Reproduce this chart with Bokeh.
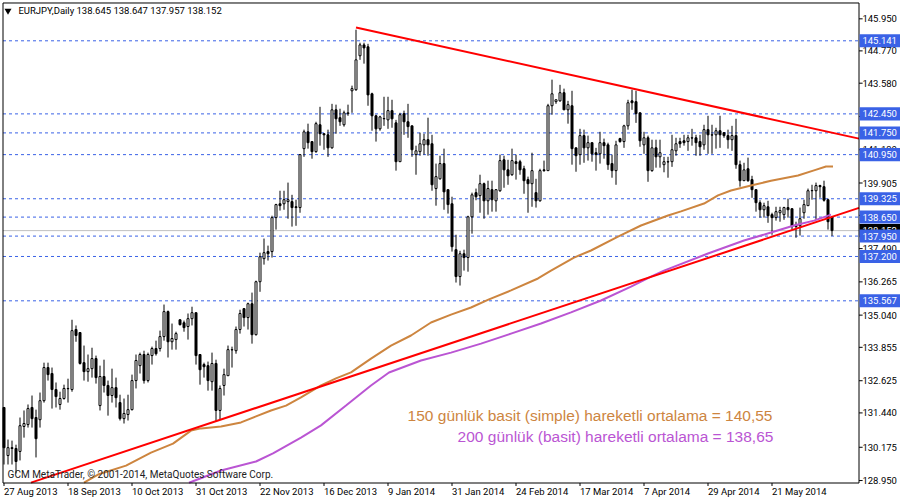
from bokeh.plotting import figure
from bokeh.models import ColumnDataSource, Range1d
from bokeh.core.properties import value
from bokeh.embed import file_html
from bokeh.resources import INLINE

CAL = 0.04  # reading calibration against the price scale; last bar is given exactly in the header
open_read = [131.68,129.91,130.20,130.17,130.06,130.98,131.05,131.68,131.31,131.23,131.93,133.15,132.93,132.34,131.79,132.01,132.38,132.34,134.55,134.44,
133.33,133.00,133.11,133.48,131.75,132.82,132.49,132.12,132.41,131.86,131.27,131.42,131.60,132.67,133.22,133.63,132.67,133.59,133.85,133.85,
134.29,135.21,134.10,134.18,134.91,134.80,134.66,134.95,135.17,133.63,133.26,133.22,132.63,133.30,131.57,132.49,132.85,133.80,133.77,134.55,
135.32,134.99,135.50,134.36,136.31,137.16,137.42,137.42,138.67,139.18,139.18,139.26,139.26,139.07,139.04,141.21,141.83,141.47,141.10,142.09,
141.76,141.72,141.24,142.64,142.35,142.09,142.50,143.34,143.38,144.63,145.03,144.96,143.23,142.42,141.94,142.31,142.27,142.61,142.16,140.73,
142.50,142.20,142.05,140.99,141.10,141.35,141.54,141.39,139.74,140.10,140.66,139.70,139.18,137.49,136.50,137.34,137.20,138.70,139.59,139.48,
139.92,139.29,139.70,139.29,139.66,140.80,140.43,140.25,140.73,140.73,140.47,140.07,139.92,139.59,139.29,140.43,140.40,142.79,142.94,142.97,
143.27,142.64,142.79,141.24,140.99,141.69,141.24,141.43,141.06,141.02,141.43,141.35,140.66,140.40,141.58,141.47,142.05,142.97,142.94,142.53,
141.35,141.61,140.40,141.24,140.91,140.62,140.72,140.73,141.13,141.47,141.50,141.47,141.60,141.61,141.47,141.35,141.91,141.71,141.72,141.87,
141.80,141.69,141.54,141.69,140.62,140.03,140.47,140.07,139.70,139.22,138.96,139.07,138.78,138.67,138.85,138.78,139.04,139.00,138.41,138.37,
138.85,139.11,139.66,139.66,139.85,139.81,139.33,138.645]
high_read = [131.68,130.50,130.46,130.31,131.31,131.57,131.79,132.12,131.60,132.23,133.33,133.33,133.15,132.60,132.26,132.52,132.74,134.91,134.70,134.44,
133.96,133.63,133.88,133.59,133.22,133.44,132.67,133.11,132.78,132.15,132.01,132.15,132.89,133.63,133.70,133.77,133.70,133.92,134.14,134.51,
135.47,135.25,134.77,134.47,134.91,134.88,135.14,135.39,135.17,133.63,133.33,133.37,133.70,133.44,132.49,133.11,133.96,133.92,134.66,135.28,
135.32,135.54,135.91,136.35,137.38,137.90,137.64,138.74,139.18,139.66,139.66,139.96,139.51,139.33,140.99,141.91,142.13,141.47,142.20,142.75,
141.76,141.91,142.86,142.83,142.68,142.61,142.83,143.53,145.59,145.11,145.11,145.07,143.27,142.46,142.42,143.12,143.12,143.01,142.27,142.53,
142.61,142.86,142.05,141.32,141.80,141.76,142.35,141.72,140.66,140.95,141.21,139.70,139.44,138.04,137.45,137.49,138.74,139.59,139.74,140.25,
139.96,140.03,140.03,139.70,140.99,140.95,140.80,141.21,140.99,140.80,140.58,140.18,141.06,140.10,140.47,140.77,142.86,143.75,143.01,143.56,
143.42,142.97,143.34,141.24,141.94,141.91,141.69,141.43,141.24,141.83,141.58,141.43,140.99,141.50,141.61,142.09,143.01,143.38,143.34,142.53,
141.83,141.69,141.54,141.54,141.54,140.91,140.91,141.72,141.61,141.61,141.72,141.72,141.94,141.72,141.72,142.09,142.42,142.09,141.98,142.42,
141.80,141.91,142.05,142.31,140.77,140.69,140.88,140.21,139.70,139.31,139.22,139.29,138.85,139.07,139.07,139.07,139.37,139.00,138.52,139.04,
139.33,139.74,139.88,139.96,139.88,140.03,139.37,138.647]
low_read = [129.58,129.58,129.58,129.25,129.73,130.57,130.94,130.94,129.84,130.94,131.86,132.67,131.64,131.68,131.60,131.97,131.86,132.26,134.10,133.26,
132.67,132.63,132.78,132.56,131.57,132.23,131.38,131.86,131.68,131.20,131.09,131.20,131.57,132.38,132.93,132.56,132.60,133.26,133.59,133.74,
134.14,133.52,133.81,133.81,134.70,134.47,134.18,134.70,133.26,132.52,132.78,132.30,132.30,131.16,131.23,132.12,132.85,133.15,133.66,134.40,
134.66,134.55,134.03,134.33,135.94,136.94,137.09,137.20,138.23,138.93,138.96,138.63,138.34,138.37,138.85,140.91,141.21,140.84,141.06,141.32,
141.17,140.91,141.21,141.76,142.05,142.02,142.42,142.53,143.34,144.48,144.34,142.79,141.87,141.47,141.87,142.05,141.94,141.98,140.40,140.73,
141.72,141.61,140.91,140.25,140.95,140.99,140.95,139.66,139.11,140.07,138.96,138.82,137.42,136.28,136.17,136.72,136.68,138.08,139.31,138.85,
138.63,138.78,138.89,138.89,139.62,139.77,139.88,140.21,140.07,140.25,139.55,138.85,139.07,139.04,139.26,140.36,140.40,142.46,142.86,142.94,
142.64,142.13,140.62,140.36,140.62,140.69,140.77,140.73,140.40,140.66,140.84,140.43,140.14,139.88,141.43,141.24,141.91,142.64,142.16,141.28,
141.02,139.99,140.36,140.51,140.51,140.34,140.14,140.54,140.95,141.24,141.32,141.13,141.32,140.95,140.95,141.17,141.02,141.02,141.21,141.24,
141.61,141.21,141.13,140.47,139.81,140.03,139.99,139.40,138.89,138.67,138.67,138.48,138.04,138.56,138.52,138.59,138.67,138.23,137.93,138.01,
138.63,139.11,139.33,138.59,139.40,139.26,138.23,137.957]
close_read = [130.20,130.20,130.17,129.69,131.01,131.09,131.64,131.27,130.53,131.93,133.15,132.89,132.34,132.08,132.01,132.38,132.37,134.51,134.33,133.30,
133.00,133.11,133.48,132.78,132.82,132.49,132.12,132.41,132.04,131.27,131.46,131.60,132.67,133.41,133.63,132.67,133.63,133.85,133.66,134.29,
135.21,134.10,134.22,134.40,134.73,134.62,134.95,135.17,133.59,133.07,133.18,132.67,133.30,131.57,132.38,132.89,133.81,133.81,134.55,135.14,
134.99,135.50,134.36,136.31,137.23,137.38,137.34,138.67,139.15,139.11,139.33,139.33,139.04,139.04,140.99,141.83,141.43,141.10,142.13,141.76,
141.72,141.24,142.64,142.31,142.20,142.53,142.53,143.42,144.48,145.03,144.92,143.19,142.42,141.94,142.38,142.32,142.61,142.31,140.73,142.46,
142.20,142.02,141.17,141.13,141.39,141.54,141.35,139.88,140.18,140.66,139.62,139.15,137.60,136.50,137.34,137.20,138.70,139.51,139.44,139.92,
139.29,139.74,139.33,139.70,140.77,140.43,140.21,140.77,140.66,140.43,140.03,139.92,140.40,139.29,140.40,140.40,142.79,143.23,143.01,143.27,
142.64,142.83,141.21,140.95,141.69,141.24,141.43,141.02,140.99,141.43,141.32,140.62,140.40,141.35,141.47,142.05,142.90,142.90,142.50,141.50,
141.61,140.40,141.24,140.91,141.06,140.73,140.73,141.17,141.39,141.39,141.43,141.61,141.61,141.43,141.28,141.91,141.72,141.72,141.87,141.72,
141.69,141.54,141.69,140.62,140.03,140.43,140.03,139.70,139.22,138.96,139.11,138.74,138.67,138.89,138.93,139.04,138.96,138.34,138.34,138.63,
139.15,139.66,139.67,139.85,139.81,139.31,138.52,138.152]

date_idx = [0,16,32,48,64,80,96,112,128,144,160,176,192]
date_labels = ["27 Aug 2013","18 Sep 2013","10 Oct 2013","31 Oct 2013","22 Nov 2013","16 Dec 2013","9 Jan 2014",
               "31 Jan 2014","24 Feb 2014","17 Mar 2014","7 Apr 2014","29 Apr 2014","21 May 2014"]
price_ticks = [145.950,144.770,143.580,142.355,141.130,139.905,138.715,137.490,136.265,135.040,133.855,132.625,131.440,130.175,128.950]
levels = [145.141,142.450,141.750,140.950,139.325,138.650,137.950,137.200,135.567]
bid = 138.152

ma150_idx = [20,23.5,30.5,36.75,42.25,46.75,49.25,54.25,59.25,63,66.75,70.5,74.25,79.25,83,86.75,91.75,96.75,101.75,106.75,111.75,116.75,121.25,126.75,133.5,136.75,142.5,146.75,153.5,159.25,166,169.25,175,178.5,181.75,186.75,191.75,198.5,202.5,205.5,207.25]
ma150_val = [128.87,129.17,129.50,129.98,130.31,130.79,130.87,130.94,131.09,131.31,131.53,131.71,132.01,132.45,132.71,132.93,133.44,133.92,134.29,134.77,135.06,135.32,135.62,135.95,136.39,136.68,137.16,137.42,137.93,138.34,138.71,138.86,139.15,139.45,139.63,139.81,139.99,140.18,140.37,140.51,140.51]
ma200_idx = [46.25,54.25,63,67.25,74.25,79.25,85.5,91.75,96.25,104.25,111.75,119.25,126.75,134.25,141.75,149.25,156.75,161.75,165,176,185,191.75,197.5,202.5,206.75]
ma200_val = [128.87,129.32,129.65,129.95,130.53,130.98,131.71,132.45,132.93,133.37,133.66,133.99,134.36,134.73,135.14,135.58,136.09,136.46,136.68,137.31,137.79,138.08,138.34,138.52,138.74]
trend_up_idx = [6.75,213.75]
trend_up_val = [128.875,138.99]
trend_down_idx = [88,213.75]
trend_down_val = [145.63,141.54]

BLUE = "#3A62E6"
FONT = value("Roboto")
SIZE = value("9.5px")
LEFT, RIGHT, TOP, BOTTOM = -0.25, 213.75, 146.533, 128.859

opens = [v - CAL for v in open_read[:-1]] + open_read[-1:]
highs = [v - CAL for v in high_read[:-1]] + high_read[-1:]
lows = [v - CAL for v in low_read[:-1]] + low_read[-1:]
closes = [v - CAL for v in close_read[:-1]] + close_read[-1:]
idx = list(range(len(opens)))

p = figure(width=900, height=500, output_backend="svg", toolbar_location=None,
           x_range=Range1d(-0.875, 224.125), y_range=Range1d(128.215, 146.625),
           min_border=0, x_axis_location=None, y_axis_location=None,
           background_fill_color="white", border_fill_color="white")
p.grid.visible = False
p.outline_line_color = None

n = len(levels)
p.segment(x0=[LEFT]*n, x1=[RIGHT]*n, y0=levels, y1=levels, line_color=BLUE, line_dash="3 3", line_width=1)
p.segment(x0=[LEFT], x1=[RIGHT], y0=[bid], y1=[bid], line_color="#C0C0C0", line_width=1)

src = ColumnDataSource(dict(
    x=idx, high=highs, low=lows,
    top=[max(a, b) for a, b in zip(opens, closes)],
    bottom=[min(a, b) for a, b in zip(opens, closes)],
    fill=["white" if c >= o else "black" for o, c in zip(opens, closes)]))
p.segment(x0="x", x1="x", y0="low", y1="high", source=src, line_color="black", line_width=1)
p.vbar(x="x", width=0.5, top="top", bottom="bottom", source=src, fill_color="fill", line_color="black", line_width=1)

p.line(ma150_idx, ma150_val, line_color="#CD853F", line_width=2)
p.line(ma200_idx, ma200_val, line_color="#BA55D3", line_width=2)
p.line(trend_up_idx, trend_up_val, line_color="#FF0000", line_width=2)
p.line(trend_down_idx, trend_down_val, line_color="#FF0000", line_width=2)

# chart frame, tick marks
p.line([LEFT, RIGHT, RIGHT, LEFT, LEFT], [TOP, TOP, BOTTOM, BOTTOM, TOP], line_color="black", line_width=1)
m = len(price_ticks)
p.segment(x0=[RIGHT]*m, x1=[RIGHT + 0.9]*m, y0=price_ticks, y1=price_ticks, line_color="black", line_width=1)
d = len(date_idx)
p.segment(x0=date_idx, x1=date_idx, y0=[BOTTOM]*d, y1=[BOTTOM - 0.11]*d, line_color="black", line_width=1)

# tick labels
p.text(x=[214.6]*m, y=price_ticks, text=[f"{t:.3f}" for t in price_ticks], text_font=FONT, text_font_size=SIZE,
       text_color="black", text_align="left", text_baseline="middle")
p.text(x=date_idx, y=[128.546]*d, text=date_labels, text_font=FONT, text_font_size=SIZE,
       text_color="black", text_align="left", text_baseline="middle")

# price tags
H = 0.24
p.quad(left=[213.875], right=[224.0], top=[bid + H], bottom=[bid - H], fill_color="black", line_color=None)
p.text(x=[214.6], y=[bid], text=[f"{bid:.3f}"], text_font=FONT, text_font_size=SIZE, text_color="white",
       text_align="left", text_baseline="middle")
p.quad(left=[213.875]*n, right=[224.0]*n, top=[v + H for v in levels], bottom=[v - H for v in levels],
       fill_color=BLUE, line_color=None)
p.text(x=[214.6]*n, y=levels, text=[f"{v:.3f}" for v in levels], text_font=FONT, text_font_size=SIZE,
       text_color="white", text_align="left", text_baseline="middle")

# header & notes
p.scatter(x=[1.0], y=[146.25], marker="inverted_triangle", size=7, fill_color="black", line_color=None)
p.text(x=[3.6], y=[146.25], text=["EURJPY,Daily  138.645 138.647 137.957 138.152"], text_font=FONT, text_font_size=SIZE,
       text_color="black", text_align="left", text_baseline="middle")
p.text(x=[0.9], y=[129.17], text=["GCM MetaTrader, © 2001-2014, MetaQuotes Software Corp."], text_font=FONT,
       text_font_size=value("10px"), text_color="#222222", text_align="left", text_baseline="middle")
p.text(x=[100.9], y=[131.34], text=["150 günlük basit (simple) hareketli ortalama = 140,55"], text_font=value("Liberation Sans"),
       text_font_size=value("15.5px"), text_color="#CD853F", text_align="left", text_baseline="middle")
p.text(x=[113.4], y=[130.57], text=["200 günlük (basit) hareketli ortalama = 138,65"], text_font=value("Liberation Sans"),
       text_font_size=value("15.5px"), text_color="#BA55D3", text_align="left", text_baseline="middle")

open("out.html", "w").write(file_html(p, INLINE))
